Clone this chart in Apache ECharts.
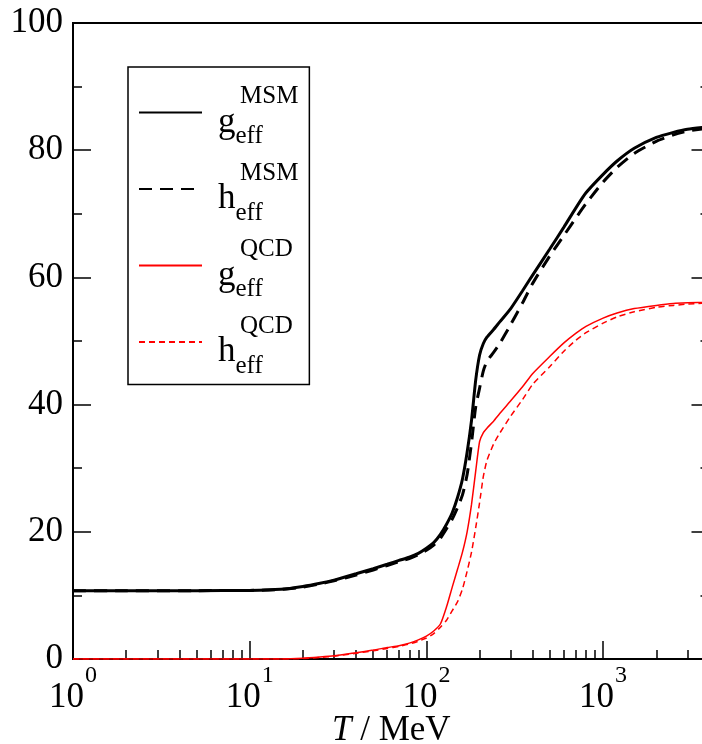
<!DOCTYPE html>
<html><head><meta charset="utf-8">
<script src="https://cdn.jsdelivr.net/npm/echarts@6/dist/echarts.min.js"></script>
<style>html,body{margin:0;padding:0;background:#fff}#c{width:702px;height:744px}</style>
</head><body><div id="c"></div>
<script>
// Temperature grid (MeV)
const T = [1, 2, 5, 10, 15, 20, 25, 30, 40, 50, 60, 70, 80, 90, 100, 110, 120, 130, 140, 150, 160, 170, 180, 190, 200, 210, 220, 240, 260, 300, 350, 400, 500, 600, 700, 800, 1000, 1200, 1500, 2000, 2500, 3000, 4000];
const gMSM = [10.75, 10.75, 10.75, 10.78, 10.95, 11.4, 11.9, 12.4, 13.4, 14.2, 14.9, 15.5, 16.0, 16.6, 17.4, 18.3, 19.6, 21.2, 23.0, 25.4, 28.3, 32.5, 37.5, 43.8, 47.8, 49.6, 50.6, 51.8, 53.0, 55.1, 57.9, 60.4, 64.5, 67.9, 70.9, 73.3, 76.2, 78.3, 80.3, 82.0, 82.8, 83.3, 83.7];
const hMSM = [10.75, 10.75, 10.75, 10.78, 10.93, 11.3, 11.8, 12.3, 13.2, 14.0, 14.7, 15.3, 15.8, 16.4, 17.1, 17.9, 19.0, 20.5, 22.0, 23.8, 25.8, 29.0, 34.0, 39.6, 42.6, 45.3, 46.8, 48.2, 49.6, 52.6, 56.0, 59.1, 63.4, 66.6, 69.3, 71.6, 75.0, 77.3, 79.5, 81.4, 82.4, 83.0, 83.5];
const gQCD = [0, 0, 0, 0, 0, 0.1, 0.3, 0.5, 1.0, 1.4, 1.8, 2.1, 2.5, 3.0, 3.6, 4.4, 5.5, 8.2, 11.3, 14.1, 16.8, 20.0, 24.3, 29.5, 34.2, 35.6, 36.3, 37.4, 38.6, 40.6, 42.8, 44.9, 47.6, 49.7, 51.2, 52.3, 53.6, 54.4, 55.1, 55.6, 55.9, 56.0, 56.1];
const hQCD = [0, 0, 0, 0, 0, 0.07, 0.25, 0.45, 0.9, 1.3, 1.65, 2.0, 2.35, 2.8, 3.3, 4.0, 5.0, 6.1, 7.6, 9.0, 11.0, 13.8, 16.8, 20.6, 24.6, 28.7, 31.2, 33.8, 35.5, 38.2, 40.8, 43.2, 46.0, 48.4, 50.1, 51.3, 52.8, 53.8, 54.6, 55.3, 55.6, 55.8, 56.0];
const minorTicksX = [2,3,4,5,6,7,8,9,20,30,40,50,60,70,80,90,200,300,400,500,600,700,800,900,2000,3000];
const legendNames = ['gMSM', 'hMSM', 'gQCD', 'hQCD'];
const legendMain = {gMSM: 'g', hMSM: 'h', gQCD: 'g', hQCD: 'h'};
const legendSup = {gMSM: 'MSM', hMSM: 'MSM', gQCD: 'QCD', hQCD: 'QCD'};
const legendSub = 'eff';

const FONT = 'Liberation Serif';
const chart = echarts.init(document.getElementById('c'));
const pairs = arr => T.map((t, i) => [t, arr[i]]);

const axisLineStyle = {color: '#000', width: 2};
const option = {
  animation: false,
  backgroundColor: '#fff',
  grid: {left: 73, top: 23, width: 636.5, height: 636, outerBoundsMode: 'none', containLabel: false, show: true, borderColor: '#000', borderWidth: 2, backgroundColor: 'transparent'},
  legend: {
    data: legendNames,
    orient: 'vertical',
    left: 128, top: 67,
    padding: [17, 11, 6, 10],
    itemWidth: 63, itemHeight: 14, itemGap: 11.5,
    borderColor: '#000', borderWidth: 1.5,
    selectedMode: false,
    itemStyle: {opacity: 0},
    formatter: name => '{p| }{sp| }{sup|' + legendSup[name] + '}\n{p| }{m|' + legendMain[name] + '}{sub|' + legendSub + '}',
    textStyle: {
      fontFamily: FONT,
      rich: {
        p: {width: 11, fontSize: 10, lineHeight: 20},
        sp: {width: 22, fontSize: 10, lineHeight: 20},
        sup: {fontFamily: FONT, fontSize: 25, color: '#000', lineHeight: 20},
        m: {fontFamily: FONT, fontSize: 35, color: '#000', lineHeight: 32},
        sub: {fontFamily: FONT, fontSize: 25, color: '#000', lineHeight: 32, padding: [28, 0, 0, 0]}
      }
    }
  },
  xAxis: [{
    type: 'log', logBase: 10, min: 1, max: 4000,
    axisLine: {show: true, lineStyle: axisLineStyle},
    axisTick: {show: true, inside: true, length: 18, lineStyle: {color: '#000', width: 1.5}},
    splitLine: {show: false},
    axisLabel: {
      margin: 22, showMaxLabel: false,
      formatter: v => '{b|10}{s|' + Math.round(Math.log10(v)) + '}',
      rich: {
        b: {fontFamily: FONT, fontSize: 35, color: '#000', lineHeight: 34},
        s: {fontFamily: FONT, fontSize: 24, color: '#000', lineHeight: 34, padding: [0, 0, 44, 1]}
      }
    },
    name: '{i|T} / MeV',
    nameLocation: 'middle', nameGap: 54, nameMoveOverlap: false,
    nameTextStyle: {
      rich: {
        i: {fontFamily: FONT, fontStyle: 'italic', fontSize: 35, color: '#000', lineHeight: 36}
      },
      fontFamily: FONT, fontSize: 35, color: '#000', lineHeight: 36
    }
  }, {
    type: 'log', logBase: 10, min: 1, max: 4000, position: 'bottom',
    axisLine: {show: false},
    axisLabel: {show: false},
    splitLine: {show: false},
    axisTick: {show: true, inside: true, length: 9, customValues: minorTicksX, lineStyle: {color: '#000', width: 1.5}}
  }],
  yAxis: [{
    type: 'value', min: 0, max: 100, interval: 20, position: 'left',
    axisLine: {show: true, lineStyle: axisLineStyle},
    axisTick: {show: true, inside: true, length: 18, lineStyle: {color: '#000', width: 1.5}},
    minorTick: {show: true, splitNumber: 2, length: 9, lineStyle: {color: '#000', width: 1.5}},
    splitLine: {show: false},
    axisLabel: {margin: 10, fontFamily: FONT, fontSize: 35, color: '#000'}
  }, {
    type: 'value', min: 0, max: 100, interval: 20, position: 'right',
    axisLine: {show: true, lineStyle: axisLineStyle},
    axisTick: {show: true, inside: true, length: 18, lineStyle: {color: '#000', width: 1.5}},
    minorTick: {show: true, splitNumber: 2, length: 9, lineStyle: {color: '#000', width: 1.5}},
    splitLine: {show: false},
    axisLabel: {show: false}
  }],
  series: [
    {name: 'gMSM', type: 'line', data: pairs(gMSM), symbol: 'none', smooth: 0.2, lineStyle: {color: '#000', width: 3}, itemStyle: {color: '#000'}},
    {name: 'hMSM', type: 'line', data: pairs(hMSM), symbol: 'none', smooth: 0.2, lineStyle: {color: '#000', width: 3, type: [13, 8]}, itemStyle: {color: '#000'}},
    {name: 'gQCD', type: 'line', data: pairs(gQCD), symbol: 'none', smooth: 0.2, lineStyle: {color: '#ff0000', width: 1.5}, itemStyle: {color: '#ff0000'}},
    {name: 'hQCD', type: 'line', data: pairs(hQCD), symbol: 'none', smooth: 0.2, lineStyle: {color: '#ff0000', width: 1.5, type: [6, 4]}, itemStyle: {color: '#ff0000'}}
  ]
};
chart.setOption(option);
</script>
</body></html>
